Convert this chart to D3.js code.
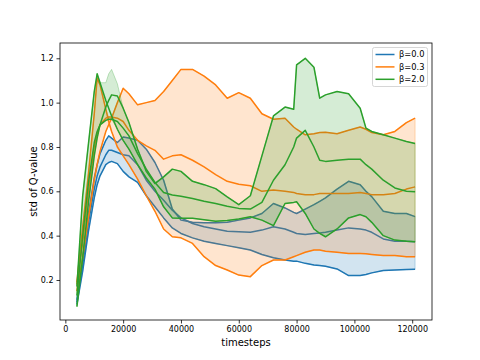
<!DOCTYPE html>
<html>
<head>
<meta charset="utf-8">
<script src="https://cdn.jsdelivr.net/npm/d3@7"></script>
<style>
body { margin: 0; background: #fff; }
svg { display: block; font-family: "DejaVu Sans", sans-serif; }
</style>
</head>
<body>
<svg id="chart" width="480" height="360"></svg>
<script>
// timesteps shared by every run
const timesteps = [4000, 6000, 8000, 10000, 11000, 12000, 14000, 15000, 16000, 18000,
	20000, 22000, 25000, 28000, 31000, 34000, 37000, 40000, 44000, 48000,
	52000, 56000, 60000, 64000, 68000, 72000, 76000, 79000, 80000, 83000,
	86000, 88000, 90000, 94000, 98000, 102000, 104000, 106000, 110000, 114000,
	118000, 121000];

// beta = 0.0
const blueRunA = [0.11, 0.30, 0.50, 0.66, 0.72, 0.77, 0.83, 0.85, 0.84, 0.82,
	0.845, 0.84, 0.83, 0.79, 0.73, 0.65, 0.52, 0.47, 0.46, 0.458,
	0.458, 0.46, 0.47, 0.48, 0.50, 0.545, 0.525, 0.505, 0.50, 0.52,
	0.54, 0.555, 0.57, 0.61, 0.645, 0.63, 0.60, 0.576, 0.51, 0.50,
	0.50, 0.486];
const blueRunB = [0.10, 0.27, 0.46, 0.61, 0.67, 0.71, 0.765, 0.785, 0.785, 0.775,
	0.765, 0.76, 0.72, 0.65, 0.60, 0.56, 0.515, 0.48, 0.455, 0.44,
	0.43, 0.42, 0.418, 0.415, 0.425, 0.44, 0.43, 0.415, 0.41, 0.405,
	0.41, 0.412, 0.415, 0.425, 0.435, 0.43, 0.425, 0.415, 0.385, 0.375,
	0.375, 0.373];
const blueRunC = [0.09, 0.24, 0.42, 0.57, 0.63, 0.67, 0.72, 0.73, 0.735, 0.725,
	0.69, 0.665, 0.64, 0.58, 0.53, 0.48, 0.435, 0.41, 0.39, 0.375,
	0.365, 0.355, 0.345, 0.335, 0.315, 0.30, 0.29, 0.285, 0.285, 0.275,
	0.268, 0.265, 0.262, 0.25, 0.22, 0.22, 0.225, 0.232, 0.243, 0.245,
	0.247, 0.248];

// beta = 0.3
const orangeRunA = [0.18, 0.37, 0.60, 0.80, 0.86, 0.90, 0.93, 0.935, 0.935, 0.93,
	0.915, 0.875, 0.83, 0.805, 0.785, 0.745, 0.76, 0.765, 0.74, 0.71,
	0.675, 0.645, 0.632, 0.625, 0.60, 0.606, 0.60, 0.595, 0.59, 0.585,
	0.585, 0.59, 0.59, 0.59, 0.59, 0.595, 0.59, 0.585, 0.585, 0.59,
	0.61, 0.62];
const orangeRunB = [0.15, 0.30, 0.48, 0.65, 0.72, 0.78, 0.87, 0.90, 0.93, 1.00,
	1.065, 1.04, 0.99, 1.00, 1.01, 1.05, 1.10, 1.15, 1.15, 1.12,
	1.08, 1.02, 1.045, 1.02, 0.95, 0.925, 0.93, 0.89, 0.88, 0.855,
	0.86, 0.865, 0.866, 0.86, 0.875, 0.89, 0.88, 0.865, 0.855, 0.87,
	0.91, 0.93];
const orangeRunC = [0.19, 0.44, 0.68, 0.95, 1.11, 1.08, 0.97, 0.915, 0.87, 0.80,
	0.76, 0.72, 0.655, 0.58, 0.51, 0.43, 0.395, 0.39, 0.365, 0.305,
	0.265, 0.245, 0.222, 0.215, 0.265, 0.29, 0.29, 0.305, 0.31, 0.325,
	0.335, 0.335, 0.33, 0.325, 0.32, 0.32, 0.318, 0.315, 0.31, 0.31,
	0.305, 0.305];

// beta = 2.0
const greenRunA = [0.17, 0.58, 0.815, 1.05, 1.13, 1.09, 1.01, 0.975, 0.94, 0.88,
	0.83, 0.79, 0.72, 0.66, 0.61, 0.53, 0.48, 0.478, 0.478, 0.472,
	0.465, 0.468, 0.475, 0.485, 0.47, 0.445, 0.545, 0.55, 0.553, 0.50,
	0.43, 0.41, 0.395, 0.43, 0.48, 0.495, 0.485, 0.46, 0.40, 0.38,
	0.375, 0.373];
const greenRunB = [0.08, 0.30, 0.55, 0.76, 0.84, 0.90, 0.98, 1.01, 1.035, 1.03,
	0.975, 0.91, 0.79, 0.69, 0.635, 0.665, 0.70, 0.69, 0.645, 0.63,
	0.612, 0.575, 0.54, 0.58, 0.76, 0.94, 0.98, 0.97, 1.17, 1.20,
	1.16, 1.02, 1.035, 1.05, 1.04, 0.975, 0.885, 0.87, 0.855, 0.84,
	0.825, 0.816];
const greenRunC = [0.13, 0.40, 0.64, 0.82, 0.87, 0.90, 0.92, 0.925, 0.925, 0.915,
	0.885, 0.85, 0.77, 0.70, 0.64, 0.595, 0.583, 0.578, 0.568, 0.555,
	0.545, 0.533, 0.523, 0.52, 0.55, 0.65, 0.72, 0.80, 0.84, 0.875,
	0.80, 0.74, 0.735, 0.74, 0.745, 0.745, 0.72, 0.70, 0.65, 0.615,
	0.60, 0.598];
// band top where it sits above all green runs (second early peak)
const greenBandTop = [null, null, null, null, null, null, 1.09, 1.13, 1.15, 1.085,
	null, null, null, null, null, null, null, null, null, null,
	null, null, null, null, null, null, null, null, null, null,
	null, null, null, null, null, null, null, null, null, null,
	null, null];

const labels = ['β=0.0', 'β=0.3', 'β=2.0'];
const colors = ['#1f77b4', '#ff7f0e', '#2ca02c'];
const xTicks = [0, 20000, 40000, 60000, 80000, 100000, 120000];
const yTicks = [0.2, 0.4, 0.6, 0.8, 1.0, 1.2];

const series = [
	{runs: [blueRunA, blueRunB, blueRunC]},
	{runs: [orangeRunA, orangeRunB, orangeRunC]},
	{runs: [greenRunA, greenRunB, greenRunC], top: greenBandTop}
];

var svg = d3.select('#chart');
// axes box (window.top is reserved, so name them plotX0 etc)
var plotX0 = 60, plotX1 = 432, plotY0 = 43, plotY1 = 320;

var x = d3.scaleLinear().domain([-1850, 126850]).range([plotX0, plotX1]);
var y = d3.scaleLinear().domain([0.0195, 1.269]).range([plotY1, plotY0]);

svg.append('clipPath').attr('id', 'plotArea')
	.append('rect')
	.attr('x', plotX0).attr('y', plotY0)
	.attr('width', plotX1 - plotX0).attr('height', plotY1 - plotY0);

var plot = svg.append('g').attr('clip-path', 'url(#plotArea)');

var line = d3.line()
	.x(function(d, i){ return x(timesteps[i]); })
	.y(function(d){ return y(d); });

var area = d3.area()
	.x(function(d, i){ return x(timesteps[i]); })
	.y0(function(d){ return y(d[0]); })
	.y1(function(d){ return y(d[1]); });

series.forEach(function(s, k){
	// each run as a line, then the min/max band over it
	s.runs.forEach(function(run){
		plot.append('path')
			.attr('d', line(run))
			.attr('fill', 'none')
			.attr('stroke', colors[k])
			.attr('stroke-width', 1.5)
			.attr('stroke-linejoin', 'round');
	});

	var band = timesteps.map(function(t, i){
		var vals = s.runs.map(function(r){ return r[i]; });
		var hi = d3.max(vals);
		if(s.top && s.top[i] != null) hi = Math.max(hi, s.top[i]);
		return [d3.min(vals), hi];
	});

	plot.append('path')
		.attr('d', area(band))
		.attr('fill', colors[k])
		.attr('fill-opacity', 0.2)
		.attr('stroke', colors[k])
		.attr('stroke-opacity', 0.35)
		.attr('stroke-width', 0.8);
});

// axes
var xAxis = svg.append('g')
	.attr('transform', `translate(0,${plotY1})`)
	.call(d3.axisBottom(x).tickValues(xTicks).tickFormat(d3.format('d')).tickSize(3.5).tickPadding(2.5));
var yAxis = svg.append('g')
	.attr('transform', `translate(${plotX0},0)`)
	.call(d3.axisLeft(y).tickValues(yTicks).tickFormat(d3.format('.1f')).tickSize(3.5).tickPadding(3));

[xAxis, yAxis].forEach(function(g){
	g.select('.domain').remove();
	g.attr('font-family', '"DejaVu Sans", sans-serif').attr('font-size', 8);
	g.selectAll('line').attr('stroke', '#000').attr('stroke-width', 0.8);
	g.selectAll('text').attr('fill', '#000');
});

// spines
svg.append('rect')
	.attr('x', plotX0).attr('y', plotY0)
	.attr('width', plotX1 - plotX0).attr('height', plotY1 - plotY0)
	.attr('fill', 'none')
	.attr('stroke', '#000')
	.attr('stroke-width', 0.8);

svg.append('text')
	.attr('x', (plotX0 + plotX1) / 2).attr('y', 345.5)
	.attr('text-anchor', 'middle')
	.attr('font-size', 10)
	.text('timesteps');

svg.append('text')
	.attr('transform', `translate(36.5,${(plotY0 + plotY1) / 2}) rotate(-90)`)
	.attr('text-anchor', 'middle')
	.attr('font-size', 10)
	.text('std of Q-value');

// legend
var legend = svg.append('g').attr('transform', 'translate(372.5,47.5)');
legend.append('rect')
	.attr('width', 55).attr('height', 39).attr('rx', 2)
	.attr('fill', '#fff').attr('fill-opacity', 0.8)
	.attr('stroke', '#ccc').attr('stroke-width', 0.8);

labels.forEach(function(label, i){
	var rowY = 7 + i * 12.4;
	legend.append('line')
		.attr('x1', 3).attr('x2', 22)
		.attr('y1', rowY).attr('y2', rowY)
		.attr('stroke', colors[i]).attr('stroke-width', 1.5);
	legend.append('text')
		.attr('x', 26.5).attr('y', rowY)
		.attr('dy', '0.35em')
		.attr('font-size', 8.3)
		.text(label);
});
</script>
</body>
</html>
